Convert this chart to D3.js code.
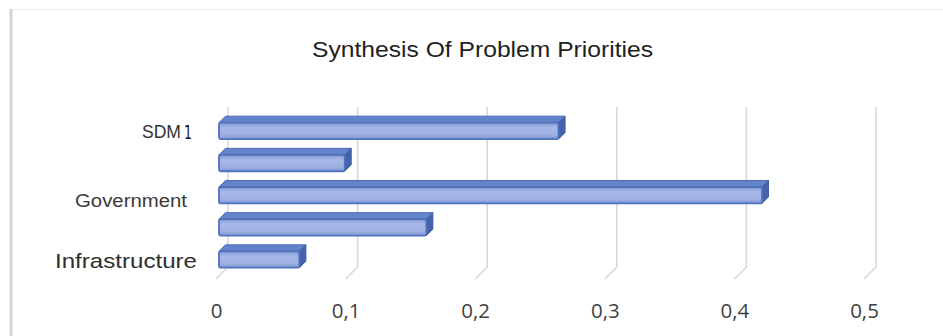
<!DOCTYPE html>
<html>
<head>
<meta charset="utf-8">
<script src="https://cdn.jsdelivr.net/npm/d3@7"></script>
<style>
  html, body { margin: 0; padding: 0; background: #ffffff; }
  svg { display: block; }
</style>
</head>
<body>
<svg id="chart" width="943" height="336"></svg>
<script>
// Priority weights per problem area (they sum to 1)
const categories = ["SDM", "Category 2", "Government", "Category 4", "Infrastructure"];
const categoryLabels = ["SDM", "", "Government", "", "Infrastructure"];
const priorities = [0.262, 0.097, 0.419, 0.160, 0.062];
const tickValues = [0, 0.1, 0.2, 0.3, 0.4, 0.5];
const tickLabels = ["0", "0,1", "0,2", "0,3", "0,4", "0,5"];
const chartTitle = "Synthesis Of Problem Priorities";

const svg = d3.select("#chart");

// Frame of the chart area
svg.append("line").attr("x1", 11).attr("x2", 11).attr("y1", 9).attr("y2", 336)
  .attr("stroke", "#d4d4d4").attr("stroke-width", 3);
svg.append("line").attr("x1", 13).attr("x2", 943).attr("y1", 9.5).attr("y2", 9.5)
  .attr("stroke", "#f2f2f2").attr("stroke-width", 1.5);

// Title
svg.append("text")
  .attr("x", 482.5).attr("y", 57)
  .attr("text-anchor", "middle")
  .attr("font-family", "Liberation Sans, Arial, sans-serif")
  .attr("font-size", 22)
  .attr("fill", "#1f1f1f")
  .attr("textLength", 341).attr("lengthAdjust", "spacingAndGlyphs")
  .text(chartTitle);

// Oblique 3D layout: the floor's front edge, the back wall and the bar front face
const frontX0 = 216, depth = 12;          // full depth offset of the plot box
const barFrontZ = 3, barDepth = 6.5;       // bar slab position within the depth
const wallTop = 107, wallBottom = 267;

const x = d3.scaleLinear().domain([0, 0.5]).range([0, 648]);
const y = d3.scaleBand().domain(categories)
  .range([114.8, 275.6]).paddingInner(0.49).paddingOuter(0.245);

// Gridlines: vertical on the back wall, then diagonal across the floor
const grid = svg.append("g").attr("fill", "none")
  .attr("stroke", "#d9d9d9").attr("stroke-width", 1.6);
grid.selectAll("path").data(tickValues).join("path")
  .attr("d", v => {
    const xb = frontX0 + depth + x(v), xf = frontX0 + x(v);
    return `M${xb},${wallTop}L${xb},${wallBottom}L${xf},${wallBottom + depth}`;
  });

// Value axis along the front edge of the floor
const axis = d3.axisBottom(x).tickValues(tickValues)
  .tickFormat((d, i) => tickLabels[i]).tickSize(0).tickPadding(0);
const axisG = svg.append("g")
  .attr("transform", `translate(${frontX0},0)`)
  .call(axis);
axisG.select(".domain").remove();
axisG.selectAll("text")
  .attr("y", 317.5).attr("dy", null)
  .attr("font-family", "Open Sans, sans-serif")
  .attr("font-size", 20.5)
  .attr("fill", "#3f3f3f");

// Bar gradients
const defs = svg.append("defs");
const grad = defs.append("linearGradient").attr("id", "barFront")
  .attr("x1", 0).attr("y1", 0).attr("x2", 0).attr("y2", 1);
[["0%", "#8299d6"], ["30%", "#a6b7e6"], ["70%", "#a0b2e3"], ["100%", "#8198d5"]]
  .forEach(([o, c]) => grad.append("stop").attr("offset", o).attr("stop-color", c));

// Bars: front face, top face and right side face
const bx0 = frontX0 + barFrontZ;
const bars = svg.append("g").selectAll("g").data(categories).join("g");
bars.each(function (c, i) {
  const g = d3.select(this);
  const y0 = y(c), h = y.bandwidth(), w = x(priorities[i]);
  const d = barDepth;
  g.append("path")
    .attr("d", `M${bx0},${y0}L${bx0 + d},${y0 - d}L${bx0 + w + d},${y0 - d}L${bx0 + w},${y0}Z`)
    .attr("fill", "#6483cb").attr("stroke", "#4b6cb6").attr("stroke-width", 1)
    .attr("stroke-linejoin", "round");
  g.append("path")
    .attr("d", `M${bx0 + w},${y0}L${bx0 + w + d},${y0 - d}L${bx0 + w + d},${y0 + h - d}L${bx0 + w},${y0 + h}Z`)
    .attr("fill", "#4563ab").attr("stroke", "#3f5ea6").attr("stroke-width", 1)
    .attr("stroke-linejoin", "round");
  g.append("rect")
    .attr("x", bx0).attr("y", y0).attr("width", w).attr("height", h)
    .attr("rx", 1.5)
    .attr("fill", "url(#barFront)").attr("stroke", "#4f72bd").attr("stroke-width", 1.8);
});

// Category labels (every other category is labelled)
const labelStyle = [
  { size: 19, len: 39, dy: 7.5, color: "#333333" },
  null,
  { size: 18, len: 112, dy: 11.5, color: "#3a3a3a" },
  null,
  { size: 21, len: 142, dy: 8, color: "#2e2e2e" }
];
const labels = svg.append("g")
  .attr("font-family", "Liberation Sans, Arial, sans-serif")
  .attr("text-anchor", "end");
categories.forEach((c, i) => {
  const s = labelStyle[i];
  if (!s || !categoryLabels[i]) return;
  const cy = y(c) + y.bandwidth() / 2;
  const t = labels.append("text")
    .attr("y", cy + s.dy)
    .attr("font-size", s.size)
    .attr("fill", s.color);
  if (i === 0) {
    t.attr("x", 181).attr("textLength", s.len).attr("lengthAdjust", "spacingAndGlyphs")
      .text(categoryLabels[i]);
    labels.append("text")
      .attr("x", 184).attr("y", cy + s.dy + 1)
      .attr("text-anchor", "start")
      .attr("font-family", "DejaVu Sans Condensed, DejaVu Sans, sans-serif")
      .attr("font-size", 19)
      .attr("fill", "#111111")
      .attr("textLength", 8).attr("lengthAdjust", "spacingAndGlyphs")
      .text("1");
  } else {
    t.attr("x", i === 2 ? 187 : 197)
      .attr("textLength", s.len).attr("lengthAdjust", "spacingAndGlyphs")
      .text(categoryLabels[i]);
  }
});
</script>
</body>
</html>
